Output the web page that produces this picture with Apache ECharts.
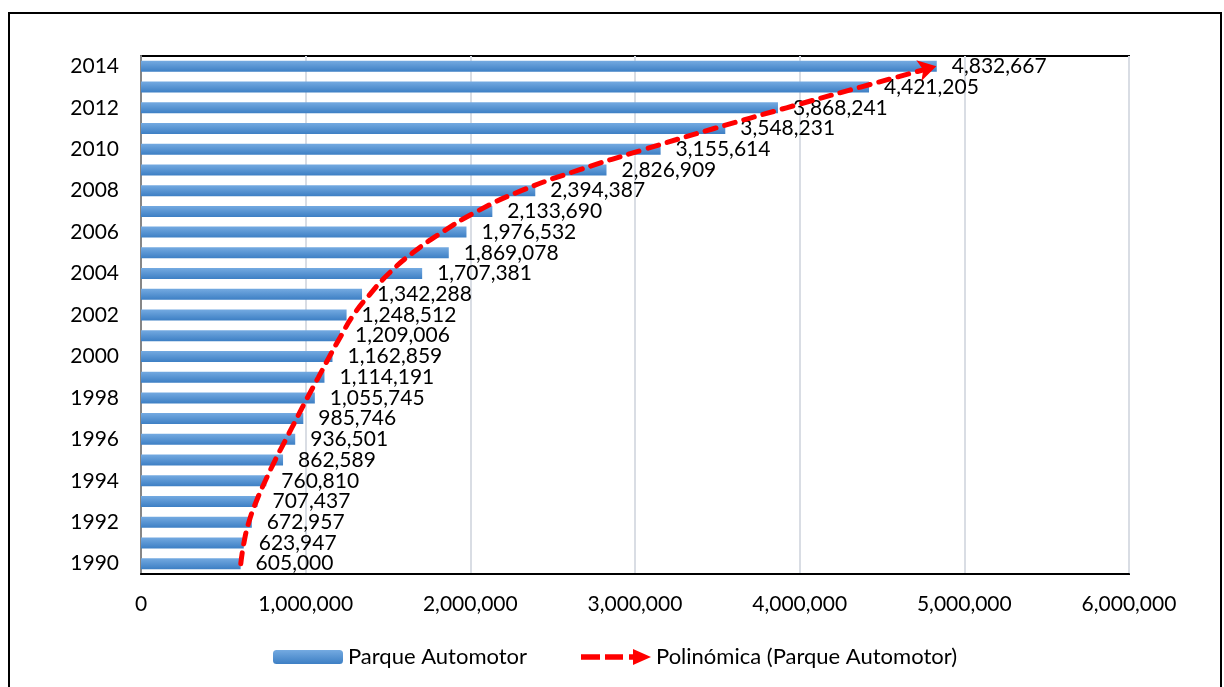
<!DOCTYPE html>
<html>
<head>
<meta charset="utf-8">
<script src="https://cdn.jsdelivr.net/npm/echarts@6/dist/echarts.min.js"></script>
<style>
  html, body { margin: 0; padding: 0; background: #fff; }
  #main { width: 1224px; height: 687px; }
</style>
</head>
<body>
<div id="main"></div>
<script>
var years = ['1990', '1991', '1992', '1993', '1994', '1995', '1996', '1997', '1998', '1999',
  '2000', '2001', '2002', '2003', '2004', '2005', '2006', '2007', '2008', '2009',
  '2010', '2011', '2012', '2013', '2014']
// Parque Automotor
var parque = [605000, 623947, 672957, 707437, 760810, 862589, 936501, 985746, 1055745, 1114191,
  1162859, 1209006, 1248512, 1342288, 1707381, 1869078, 1976532, 2133690, 2394387, 2826909,
  3155614, 3548231, 3868241, 4421205, 4832667]
// linea de tendencia
var tendencia = [606000, 625000, 655000, 700000, 755000, 815000, 880000, 945000, 1010000, 1078000,
  1145000, 1215000, 1290000, 1390000, 1505000, 1650000, 1830000, 2040000, 2310000, 2660000,
  3060000, 3480000, 3920000, 4370000, 4830000]
var xTicks = [0, 1000000, 2000000, 3000000, 4000000, 5000000, 6000000]

var FONT = 'Lato'
function fmt(v) {
  return Number(v).toLocaleString('en-US')
}

var chart = echarts.init(document.getElementById('main'))

var trendData = tendencia.map(function (v, i) {
  if (i === tendencia.length - 1) {
    return { value: v, symbol: 'arrow', symbolSize: [16, 18], symbolRotate: -76 }
  }
  return { value: v, symbol: 'none' }
})

var option = {
  animation: false,
  backgroundColor: '#fff',
  textStyle: { fontFamily: FONT },
  graphic: [{
    type: 'rect',
    shape: { x: 9, y: 13, width: 1212, height: 690 },
    style: { fill: 'none', stroke: '#000', lineWidth: 2 },
    silent: true
  }],
  grid: {
    left: 141,
    right: 95,
    top: 56,
    bottom: 113,
    show: true,
    borderColor: '#000',
    borderWidth: 2,
    backgroundColor: 'transparent'
  },
  legend: [{
    left: 273,
    top: 646,
    padding: 0,
    itemWidth: 70,
    itemHeight: 14,
    textStyle: { fontFamily: FONT, fontSize: 22, color: '#000' },
    data: ['Parque Automotor']
  }, {
    left: 581,
    top: 646,
    padding: 0,
    itemWidth: 70,
    itemHeight: 16,
    textStyle: { fontFamily: FONT, fontSize: 22, color: '#000' },
    data: [{
      name: 'Polinómica (Parque Automotor)',
      icon: 'path://M0,5.3L19,5.3L19,10.7L0,10.7Z M24,5.3L42,5.3L42,10.7L24,10.7Z M48,5.3L52,5.3L52,0L70,8L52,16L52,10.7L48,10.7Z',
      itemStyle: { color: '#ff0000', borderWidth: 0 }
    }]
  }],
  xAxis: {
    type: 'value',
    min: xTicks[0],
    max: xTicks[xTicks.length - 1],
    interval: 1000000,
    axisLine: { show: true, lineStyle: { color: '#000', width: 2 } },
    axisTick: { show: false },
    splitLine: { show: true, lineStyle: { color: '#d9dde4', width: 2 } },
    axisLabel: {
      margin: 20,
      fontFamily: FONT,
      fontSize: 21,
      color: '#000',
      formatter: function (v) { return fmt(v) }
    }
  },
  yAxis: {
    type: 'category',
    data: years,
    axisLine: { show: true, lineStyle: { color: '#868686', width: 2 } },
    axisTick: { show: false },
    axisLabel: {
      interval: 1,
      margin: 22,
      fontFamily: FONT,
      fontSize: 21,
      color: '#000'
    }
  },
  series: [{
    name: 'Parque Automotor',
    type: 'bar',
    data: parque,
    barWidth: 11,
    z: 2,
    itemStyle: {
      color: new echarts.graphic.LinearGradient(0, 0, 0, 1, [
        { offset: 0, color: '#74aae1' },
        { offset: 1, color: '#3d7fc4' }
      ])
    },
    label: {
      show: true,
      position: 'right',
      distance: 15,
      fontFamily: FONT,
      fontSize: 21,
      color: '#000',
      formatter: function (p) { return fmt(p.value) }
    }
  }, {
    name: 'Polinómica (Parque Automotor)',
    type: 'line',
    data: trendData,
    smooth: true,
    z: 5,
    color: '#ff0000',
    lineStyle: { color: '#ff0000', width: 5, type: [11, 9], cap: 'round' },
    itemStyle: { color: '#ff0000' }
  }]
}

chart.setOption(option)
</script>
</body>
</html>
